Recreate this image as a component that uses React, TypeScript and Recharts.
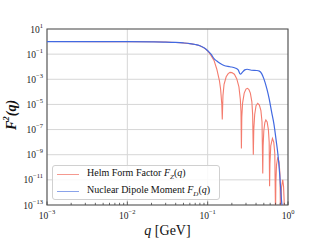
import { LineChart, Line, XAxis, YAxis, CartesianGrid, ReferenceArea } from "recharts";

// Helm form factor F_Z(q)^2 (q in GeV, log10 of F^2)
const helmQ = [
  0.001, 0.005, 0.01, 0.02, 0.03, 0.04, 0.05, 0.06, 0.07, 0.08, 0.09, 0.1, 0.11, 0.12, 0.13,
  0.14, 0.145, 0.15, 0.152,
  0.155, 0.16, 0.17, 0.18, 0.19, 0.2, 0.215, 0.23, 0.245, 0.255, 0.26, 0.263,
  0.266, 0.272, 0.285, 0.3, 0.312, 0.325, 0.34, 0.355, 0.363, 0.37,
  0.375, 0.385, 0.4, 0.42, 0.44, 0.46, 0.475, 0.485,
  0.49, 0.5, 0.515, 0.53, 0.55, 0.57, 0.583, 0.59,
  0.596, 0.61, 0.64, 0.665, 0.685, 0.7,
  0.706, 0.72, 0.746, 0.775, 0.795, 0.81,
  0.817, 0.83, 0.86, 0.88, 0.895, 0.91,
];
const helmLogF2 = [
  0, -0.002, -0.005, -0.02, -0.04, -0.07, -0.11, -0.16, -0.23, -0.33, -0.5, -0.73, -1.1, -1.5, -2.2,
  -3.1, -3.8, -5.0, -6.2,
  -4.3, -3.4, -2.8, -2.55, -2.45, -2.47, -2.6, -2.95, -3.6, -4.6, -5.6, -8.5,
  -6.0, -4.9, -4.1, -3.78, -3.72, -3.8, -4.1, -4.8, -5.8, -9.0,
  -7.0, -5.8, -5.1, -4.91, -5.05, -5.5, -6.4, -10.5,
  -8.3, -7.1, -6.45, -6.24, -6.4, -7.0, -8.0, -11.5,
  -9.7, -8.3, -7.7, -8.0, -8.9, -14,
  -11.2, -9.8, -9.2, -9.6, -10.6, -15,
  -13, -11.6, -11.0, -11.5, -12.6, -16,
];

// Nuclear dipole moment F_D(q)^2
const dipoleQ = [
  0.001, 0.005, 0.01, 0.02, 0.03, 0.04, 0.05, 0.06, 0.07, 0.08, 0.09, 0.1, 0.11, 0.12, 0.13,
  0.142, 0.16, 0.19, 0.22, 0.24, 0.255, 0.27, 0.29, 0.31, 0.35, 0.41, 0.44, 0.47, 0.5,
  0.545, 0.585, 0.625, 0.67, 0.71, 0.75, 0.78, 0.83, 0.86,
];
const dipoleLogF2 = [
  0, -0.002, -0.005, -0.02, -0.04, -0.07, -0.11, -0.16, -0.23, -0.33, -0.5, -0.73, -1.0, -1.35, -1.55,
  -1.73, -1.9, -2.0, -2.1, -2.25, -2.6, -2.45, -2.25, -2.2, -2.28, -2.3, -2.35, -2.55, -2.95,
  -3.75, -4.6, -5.6, -6.6, -7.8, -9.0, -10.2, -12.6, -13.6,
];

const xTicks = [
  0.001, 0.002, 0.003, 0.004, 0.005, 0.006, 0.007, 0.008, 0.009,
  0.01, 0.02, 0.03, 0.04, 0.05, 0.06, 0.07, 0.08, 0.09,
  0.1, 0.2, 0.3, 0.4, 0.5, 0.6, 0.7, 0.8, 0.9, 1,
];
const xMajor = [0.001, 0.01, 0.1, 1];
const yTicks = [10, 0.1, 1e-3, 1e-5, 1e-7, 1e-9, 1e-11, 1e-13];

const helmData = helmQ.map((q, i) => ({ q, f2: Math.pow(10, helmLogF2[i]) }));
const dipoleData = dipoleQ.map((q, i) => ({ q, f2: Math.pow(10, dipoleLogF2[i]) }));

const SERIF = "'Liberation Serif', 'Times New Roman', serif";
const RED = "#f47c6e";
const BLUE = "#4169e1";

function expOf(v: number) {
  const e = Math.round(Math.log10(v));
  return e < 0 ? "\u2212" + Math.abs(e) : String(e);
}

function XTick(props: any) {
  const { x, y, payload } = props;
  const v = payload.value;
  const major = xMajor.some((m) => Math.abs(m - v) < 1e-9);
  return (
    <g>
      <line x1={x} x2={x} y1={y} y2={y - (major ? 3.5 : 2.2)} stroke="#444" strokeWidth={0.8} />
      {major && (
        <text x={x} y={y + 13.5} textAnchor="middle" fontFamily={SERIF} fontSize={9.5} fill="#222">
          10
          <tspan dy={-5} fontSize={6.5}>{expOf(v)}</tspan>
        </text>
      )}
    </g>
  );
}

function YTick(props: any) {
  const { x, y, payload } = props;
  return (
    <text x={x} y={y + 3.5} textAnchor="end" fontFamily={SERIF} fontSize={9.5} fill="#222">
      10
      <tspan dy={-5} fontSize={6.5}>{expOf(payload.value)}</tspan>
    </text>
  );
}

function XTitle(props: any) {
  const vb = props.viewBox;
  return (
    <text x={vb.x + vb.width / 2} y={vb.y + 30} textAnchor="middle" fontFamily={SERIF} fontSize={14} fill="#111">
      <tspan fontStyle="italic">q</tspan> [GeV]
    </text>
  );
}

function YTitle(props: any) {
  const vb = props.viewBox;
  const cx = vb.x + 11;
  const cy = vb.y + vb.height / 2 - 2;
  return (
    <text
      x={cx}
      y={cy}
      transform={`rotate(-90, ${cx}, ${cy})`}
      textAnchor="middle"
      dominantBaseline="central"
      fontFamily={SERIF}
      fontSize={14}
      fontWeight="bold"
      fontStyle="italic"
      fill="#111"
    >
      F<tspan dy={-5} fontSize={9}>2</tspan>
      <tspan dy={5}>(q)</tspan>
    </text>
  );
}

function LegendRow({ color, name, sub, top }: { color: string; name: string; sub: string; top: number }) {
  return (
    <div style={{ position: "absolute", left: 0, top, height: 16, display: "flex", alignItems: "center" }}>
      <div style={{ width: 22, height: 0, borderTop: `1.5px solid ${color}`, marginLeft: 4, marginRight: 8 }} />
      <span style={{ fontFamily: SERIF, fontSize: 10, color: "#111", whiteSpace: "nowrap" }}>
        {name} <i>F</i>
        <sub style={{ fontSize: 7, fontStyle: "italic" }}>{sub}</sub>
        (<i>q</i>)
      </span>
    </div>
  );
}

export default function App() {
  return (
    <div style={{ position: "fixed", left: 0, top: 0, width: 320, height: 240, background: "#fff" }}>
      <LineChart width={320} height={240} margin={{ top: 29, right: 32, bottom: 0, left: 0 }}>
        <CartesianGrid stroke="#d6d6d6" strokeWidth={1} verticalValues={[0.01, 0.1]} />
        <XAxis
          dataKey="q"
          type="number"
          scale="log"
          domain={[0.001, 1]}
          ticks={xTicks}
          interval={0}
          allowDataOverflow
          height={35}
          tickSize={0}
          tickMargin={0}
          axisLine={false}
          tickLine={false}
          tick={<XTick />}
          label={{ content: <XTitle /> }}
        />
        <YAxis
          type="number"
          scale="log"
          domain={[1e-13, 10]}
          ticks={yTicks}
          interval={0}
          allowDataOverflow
          width={47}
          tickSize={0}
          tickMargin={4}
          axisLine={false}
          tickLine={false}
          tick={<YTick />}
          label={{ content: <YTitle /> }}
        />
        <Line
          data={helmData}
          dataKey="f2"
          type="linear"
          stroke={RED}
          strokeWidth={1.1}
          dot={false}
          isAnimationActive={false}
        />
        <Line
          data={dipoleData}
          dataKey="f2"
          type="monotone"
          stroke={BLUE}
          strokeWidth={1.2}
          dot={false}
          isAnimationActive={false}
        />
        <ReferenceArea x1={0.001} x2={1} y1={1e-13} y2={10} fill="none" stroke="#555" strokeWidth={1.2} ifOverflow="visible" />
      </LineChart>
      <div
        style={{
          position: "absolute",
          left: 52,
          top: 165,
          width: 166,
          height: 33,
          border: "1px solid #d0d0d0",
          borderRadius: 3,
          background: "rgba(255,255,255,0.85)",
        }}
      >
        <LegendRow color="#f5998f" name="Helm Form Factor" sub="Z" top={0} />
        <LegendRow color="#8aa3ea" name="Nuclear Dipole Moment" sub="D" top={17} />
      </div>
    </div>
  );
}
